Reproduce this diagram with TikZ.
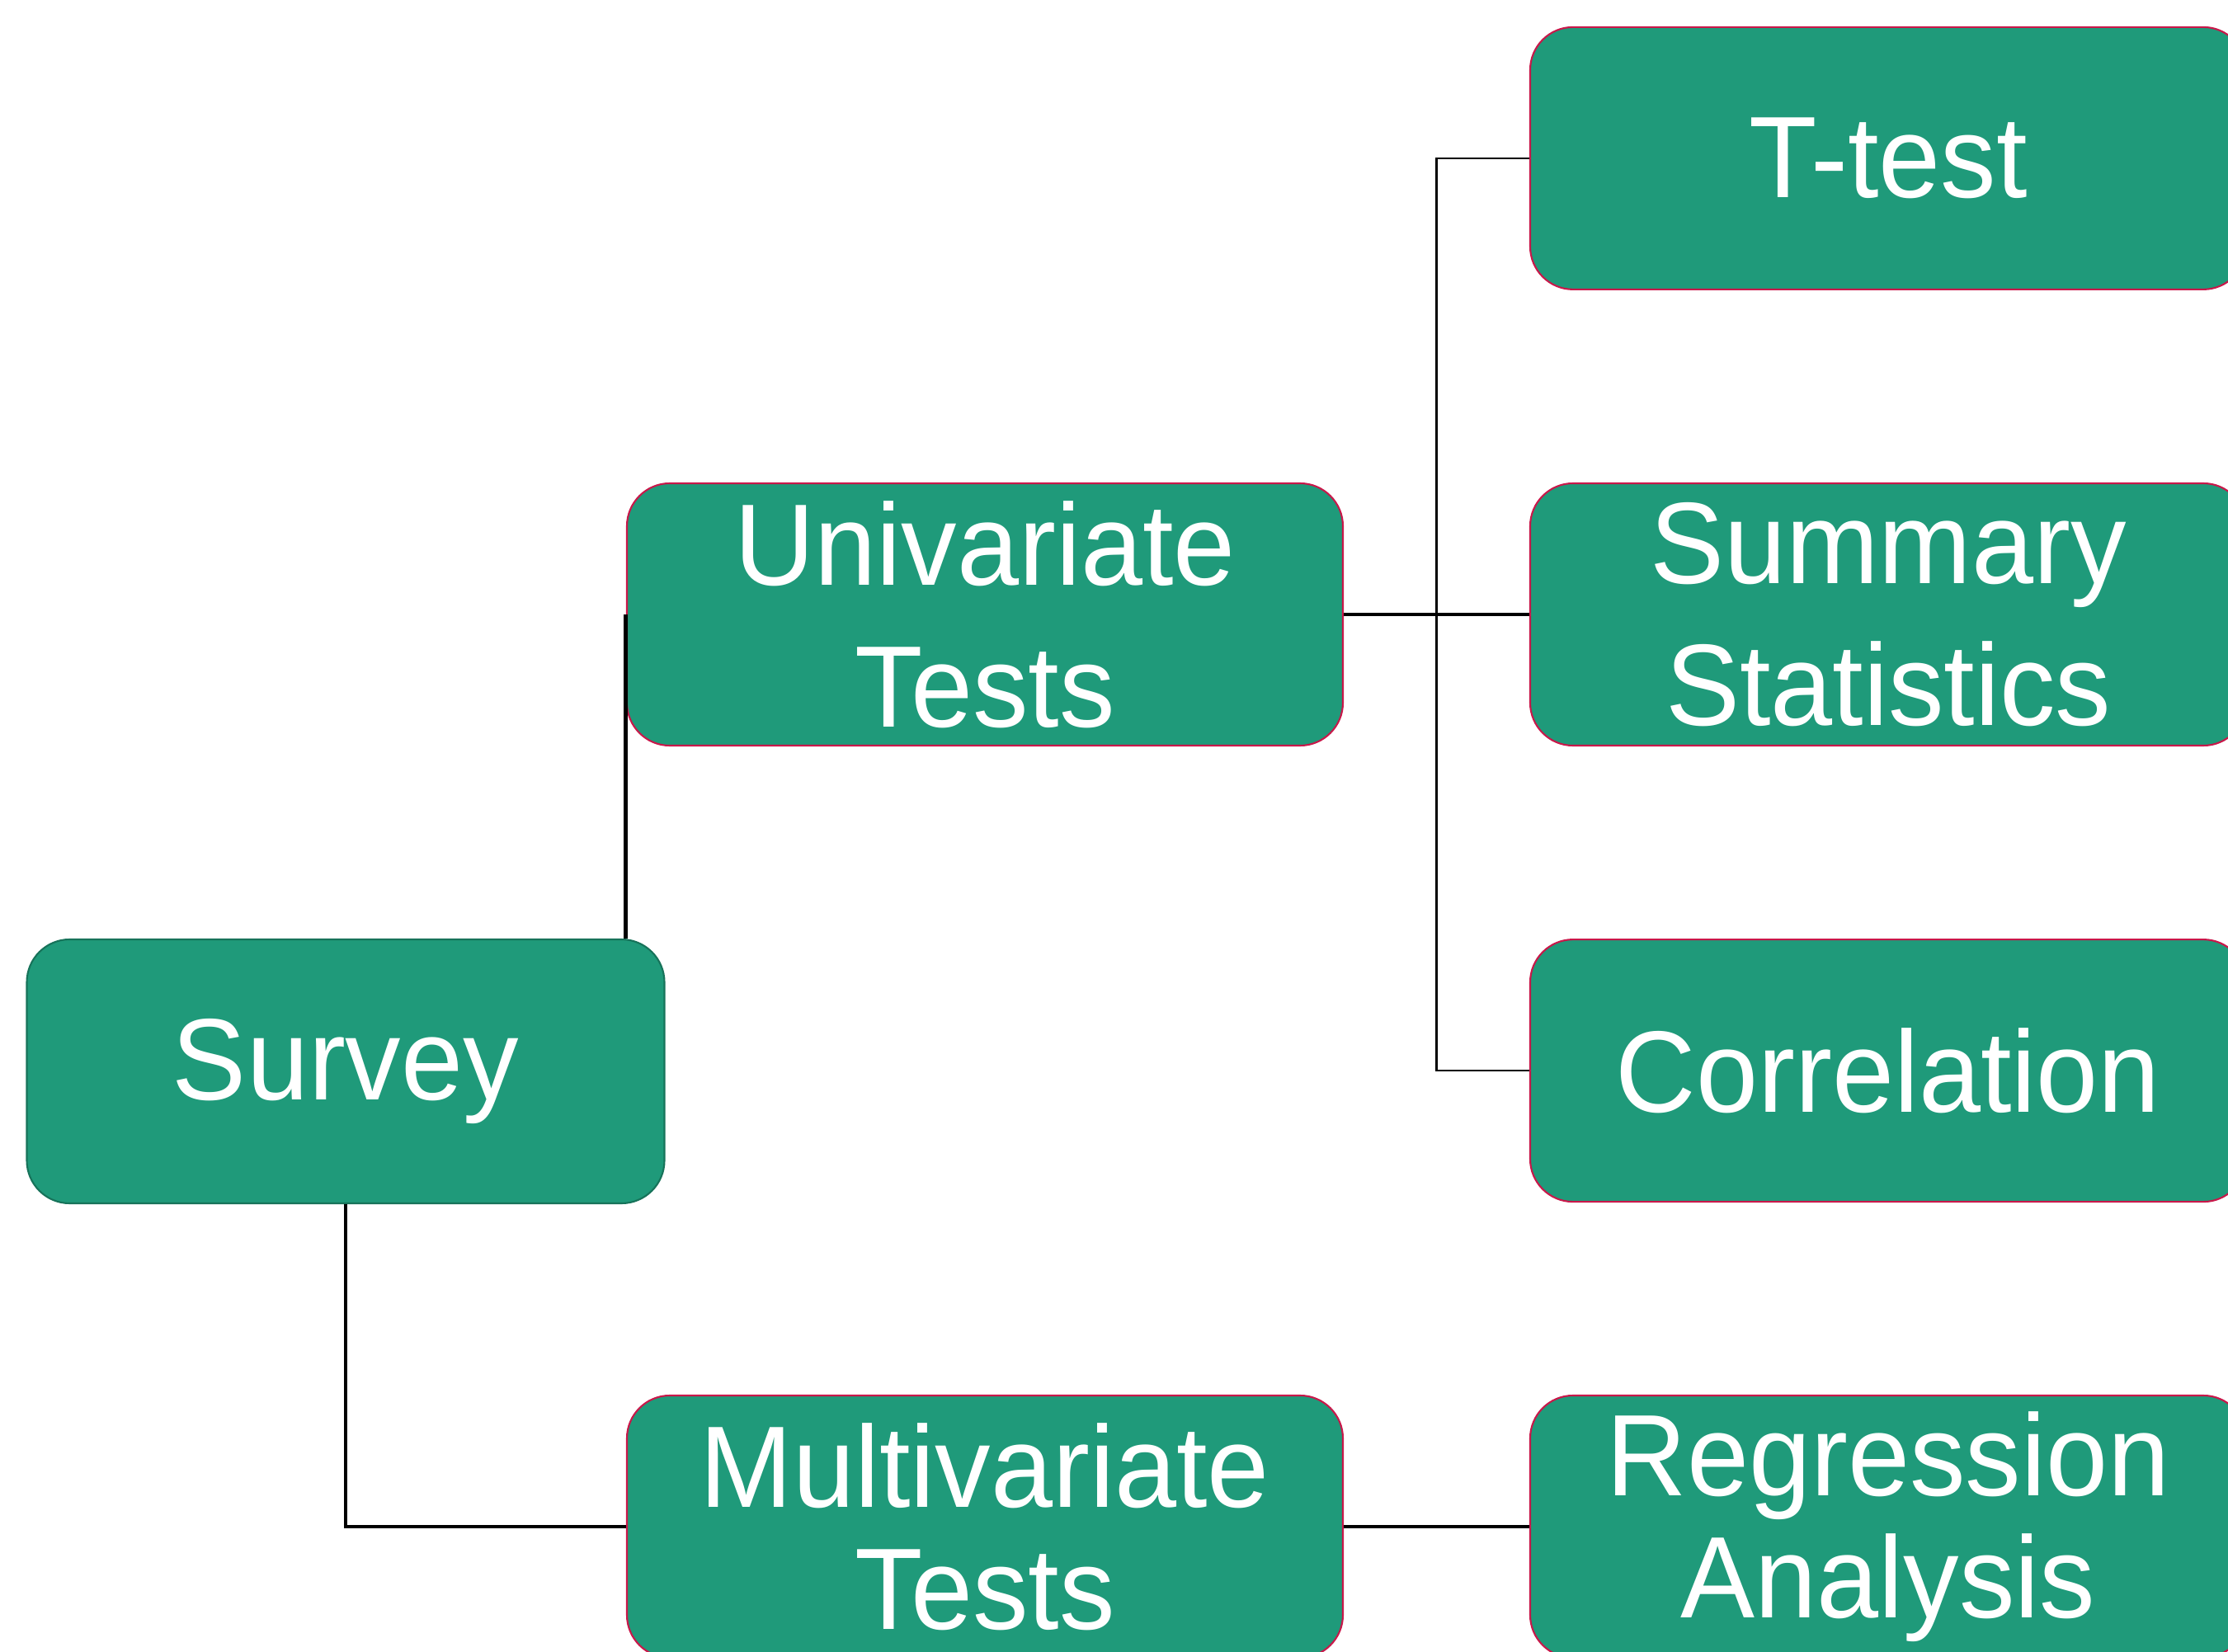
\documentclass[tikz,border=0pt]{standalone}
\usepackage{fontspec}
\setmainfont{Liberation Sans}[FakeStretch=0.96]
\usetikzlibrary{positioning,calc}
\definecolor{TreeFill}{HTML}{1F9A7A}
\definecolor{TreeEdge}{HTML}{C8184A}
\definecolor{RootEdge}{HTML}{17735A}
\tikzset{every node/.style={font=\fontsize{40}{49}\selectfont},
 box/.style={draw=TreeEdge,fill=TreeFill,text=white,rounded corners=5.2mm,
 minimum width=86.8mm,minimum height=31.8mm,align=center,inner sep=0pt,line width=0.6pt},
 lowbox/.style={box,font=\fontsize{40}{42}\selectfont},
 root/.style={box,draw=RootEdge,minimum width=77.3mm,minimum height=32mm},
 link/.style={draw=black,line width=1.4pt},thinlink/.style={draw=black,line width=0.6pt}}
\begin{document}
\begin{tikzpicture}[node distance=23.3mm]
\clip (0,0) rectangle (27.01,20.02);
\node[root] (survey) at (4.19,7.03) {Survey};
\node[box] (univ) at (11.94,12.57) {Univariate\\Tests};
\node[lowbox] (multi) at (11.94,1.51) {Multivariate\\Tests};
\node[box] (summ) at (22.89,12.57) {Summary\\Statistics};
\node[box,above=of summ] (ttest) {T-test};
\node[box,below=of summ] (corr) {Correlation};
\node[lowbox] (reg) at (22.89,1.51) {Regression\\Analysis};
\coordinate (bus) at ($(univ.east)!.5!(summ.west)$);
\draw[link] (univ.west) -- (univ.west |- survey.north);
\draw[link] (survey.south) |- (multi.west);
\draw[link] (univ.east) -- (summ.west);
\draw[thinlink] (ttest.west) -- (ttest.west -| bus) -- (corr.west -| bus) -- (corr.west);
\draw[link] (multi.east) -- (reg.west);
\end{tikzpicture}
\end{document}
